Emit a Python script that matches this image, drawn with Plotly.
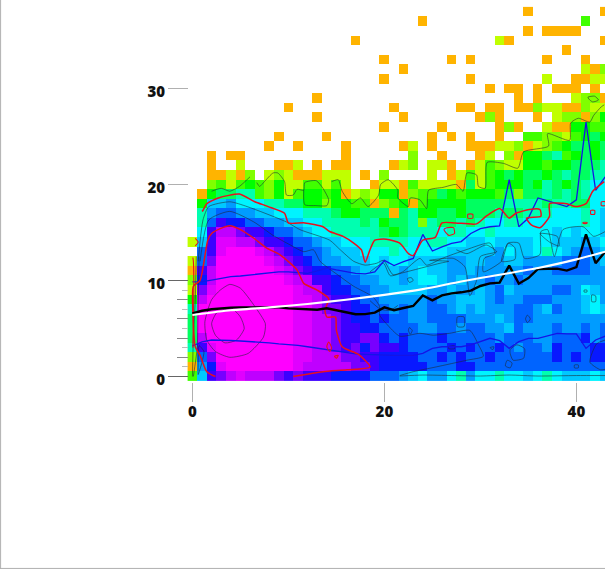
import plotly.graph_objects as go

# Histogram cells: one string per y value (from y=38 at top to y=0), columns x=0..43
ROWS = [
".......... .......... .......... .....O.... ...O",
".......... .......... ....O..... .......... .K..",
".......... .......... .......... .....O.OOO O...",
".......... .......O.. .......... ..YO...... ...O",
".......... .......... .......... .........O ....",
".......... .......... O......O.O .......O.. .O..",
".......... .......... ..O....... .......... .YOL",
".......... .......... O........O .......Y.. OOYY",
".......... .......... .......... .O.OO.O.OO O.O.",
".......... ...O...... .......... ....O.O... YLLO",
".......... O......... .O......OO .OO.OOLYYO OLYY",
".......... ...O...... ..O....... OLO...O.YL LOLJ",
".......... .......... O.....O... ..OLO..YOO JJKK",
".........O ....O..... .....O.O.O ..O..KKLLY KJHJ",
"........O. .O....O... ..OY.O...O OOYYLOYLKJ HHJH",
"..O.OO.... ......O... ...L..O... OY.LOJJHGK JHJH",
"..O..Y...O OY.O.OO... .OYL.YYO.O YKLYYJJKJJ HHHG",
"..OOYOL.YL YOOOYYY.O. L....Y.OYK YKJHJHHJHG HHGG",
"..LKYKJKLJ YYKKYKY..O YYOKYYYYOH YKJJJHJGHJ HGFF",
".OJHHGGKLJ YKJJKJOYLY JJOLKKHJKJ JJKHLHHGHG HGFF",
".JEEDFFFGG HHJJLJJKKO LKJOKJJJJH HHHGGGGHGG HHFF",
".GDCCDDEEF FFGGGHJJHH HOHGJJHHJH HHGHHGGGFF FGFE",
".GCUBBCCDD EEFFGGGGHG JHHGLGHHGH GFFGGFFFFF FGFE",
".FUVVIUUBC CDEFFGGGGG HJHGGGFGGF FGFFFFFFEF EFFE",
"YEUPPVVIUU BCCDEEFFFG GGGFFGGFFE EFEEEEFFEE EDEF",
".CUPMMMPVI UBCCDEEEFF FGFFFFFEEE EEDFEEFGFE DCDE",
"YCIMMMMMPV IUBCDDEEEF EFFEEEEDDE EDDEEDDDDC CCDE",
"OUVMMMMMMP VIUBBCCDEE EEDEFEEDDE DDDDDCDDCC CCDD",
"LBVMMMMMMM PVVUUBCCDD EEDEFFEDED DCDDCDDDDD DDDD",
"YIPMMMMMMM MPVVUBBCCD DEEEEDDEDD EDCEDDDDCC DFED",
"JVMMMMMMMM MPPVIUUBCC DDDDDCDDEE EDCDDCCCDD DEFD",
"GMMMMMMMMM MPPVIIUBBC CDCDDCCDED EDDDCCDECD DEFE",
"HMMMMMMMMM MPPVVIUBBC BCCDDCCCCD DDEDCCDDDD DDDD",
"HMMMMMMMMM MPPVVIUUBB CCCCDDCCDC CDDECDDDCD DCDC",
"HVMMMMMMMM MPPVVIUUII BCBCCCBCCC CCDCCCDDCC CBDC",
"GUPMMMMMMM MPPVVIUIBI UUBCCCCBCB CCBCDCCDBC CCBB",
"LCIMMMMMMM MPPVVVIIUU BBBBCCBCBC CBCCCCCCBC BCBB",
"ODBPMMMMMM MPVVVVVIIU BBBBBCCCBB CCCCCCCCCC CCCC",
"KEUIVPVVVI UIUUUBBBBC CCDEFDDFGD FFGFFEFGFE EEFE",
]
LEVELS = "MPVIUBCDEFGHJKLYO"
LEVEL_COLORS = ["#ff00ff", "#e000ff", "#bf00ff", "#7800ff", "#3c00ff", "#0818ff", "#0064ff",
                "#009cff", "#00c8ff", "#00f4ff", "#00ffb0", "#00ff60", "#00ff00", "#40ff00",
                "#80ff00", "#c0ff00", "#ffb400"]

MEAN_LINE = [6.58, 6.85, 7.0, 7.1, 7.17, 7.2, 7.2, 7.2, 7.2, 7.2, 7.1, 7.05, 6.96, 6.96, 7.1, 6.9,
             6.65, 6.48, 6.5, 6.65, 7.2, 6.9, 7.14, 7.35, 8.45, 7.94, 8.45, 8.66, 8.77, 8.94, 9.43,
             9.7, 9.78, 11.55, 9.67, 10.26, 11.2, 11.24, 11.24, 11.03, 11.4, 14.8, 11.8, 13.0]
UPPER_BLUE = [9.85, 9.88, 10.05, 10.2, 10.4, 10.47, 10.57, 10.68, 10.8, 10.9, 10.9, 10.85, 10.75, 11.0,
              11.3, 11.1, 10.95, 10.75, 10.7, 10.9, 12.1, 11.55, 11.96, 12.3, 14.8, 13.07, 13.5, 13.87,
              14.05, 14.9, 15.4, 15.6, 15.7, 20.5, 15.6, 16.5, 18.6, 18.3, 18.0, 17.7, 18.4, 26.5, 19.4, 20.8]
LOWER_BLUE = [3.2, 3.6, 3.8, 3.8, 3.75, 3.7, 3.65, 3.55, 3.5, 3.4, 3.35, 3.25, 3.1, 2.95, 2.8, 2.65, 2.5,
              2.35, 2.3, 2.25, 2.2, 2.2, 2.2, 2.2, 2.42, 2.93, 3.1, 3.1, 3.1, 3.3, 3.63, 3.98, 3.73, 2.93,
              3.63, 3.98, 3.98, 4.25, 4.5, 4.43, 4.43, 2.93, 3.8, 4.2]
FIT_X = [0, 4, 8, 12, 16, 20, 24, 28, 32, 36, 40, 43]
FIT_Y = [6.4, 6.9, 7.2, 7.55, 8.0, 8.5, 9.1, 9.9, 10.6, 11.3, 12.2, 13.0]

RED_INNER = [(2.4, 0), (1.5, .5), (.8, 2.2), (.3, 3.1), (.1, 5.5), (.1, 9.4), (.8, 10), (1.6, 14.2), (2, 14.9),
             (2.9, 15.4), (3.9, 15.7), (5, 15.3), (6.4, 14.4), (7.7, 13.4), (9.1, 12.7), (10.9, 11.1), (11.6, 9.7),
             (13, 9), (14.2, 8.1), (13.8, 6.9), (14, 6.2), (14.9, 6.2), (15, 4.8), (15.6, 3.1), (17.3, 2.3), (18.5, 1),
             (16.1, .7), (13.6, .5), (10.5, 0)]
RED_OUTER = [(1, 17.2), (1.1, 17.3), (1.5, 18), (2.7, 18.6), (4.9, 19), (6.5, 18.2), (7.9, 17.7), (9.6, 17), (10, 16),
             (11.7, 16), (13.6, 15.6), (14.3, 15.1), (15.7, 14.6), (16.8, 13.9), (17.6, 13.2), (18, 11.9), (18.5, 13.2),
             (19, 14.2), (20.2, 14.3), (21.6, 13.9), (22.5, 12.8), (23, 12.6), (24, 14.2), (25.3, 14.5), (26, 16),
             (27.4, 16), (29.6, 15.9), (30.6, 16.7), (32, 17.5), (33, 16.5), (33.7, 17), (35.1, 17.4), (36.2, 17.4),
             (36.3, 16.7), (34.8, 16.5), (35.3, 15.8), (36.2, 15.5), (37.2, 16.7), (37.2, 18), (39, 18), (39.9, 17.7),
             (41, 18), (41.7, 19.3), (42.9, 20.3)]
RED_LOOPS = [
    [(.3, 14.4), (.6, 14), (.3, 13.6)],
    [(26.2, 15.3), (26.7, 14.7), (27.3, 14.9), (27.2, 15.5), (26.5, 15.5), (26.2, 15.3)],
    [(28.7, 16.9), (29.2, 16.9), (29.2, 16.5), (28.7, 16.5), (28.7, 16.9)],
    [(14.2, 3.6), (14.5, 3), (14.3, 2.6), (14, 3.1), (14.2, 3.6)],
    [(14.8, 2.1), (15.2, 2.2), (15, 1.9), (14.8, 2.1)],
    [(41.5, 17.3), (41.9, 17.3), (41.9, 16.9), (41.5, 16.9), (41.5, 17.3)],
    [(42.6, 18.2), (43, 18.2), (43, 17.8), (42.6, 17.8), (42.6, 18.2)],
    [(40.7, 16.05), (41.1, 16.05), (41.1, 15.95), (40.7, 15.95), (40.7, 16.05)],
    [(.05, 3), (.1, 6), (.15, 9), (.1, 12), (.05, 12.4)],
]
DARK_CONTOURS = [
    # upper edge, left to right
    [(2, 19.3), (3, 19.6), (3.9, 19.3), (4.9, 19.8), (6, 20.8)],
    [(6.7, 20.2), (7, 19.8), (7.5, 20.3), (8.4, 21.2), (8.9, 21.2), (9.6, 20.3), (9.8, 18.9), (10.5, 18.9), (10.9, 19.5),
     (11.6, 19.4), (11.7, 20.2), (12.9, 20.4), (13.6, 19.6), (14.2, 18.4), (14, 17.8), (12.9, 17.8), (11.7, 17.9), (11.6, 19.4)],
    [(14.5, 20.3), (15.2, 20.5), (15.6, 19.3), (16.6, 18), (17.5, 18.6), (18.3, 17.7), (19.4, 18.9), (19.6, 20), (20.4, 20.5),
     (21.4, 19.4), (21.4, 18.6), (22.5, 17.7), (22.7, 18.6), (23.7, 18.4), (24.4, 17.5), (24.6, 19.4), (26.1, 19.7),
     (27.5, 20), (28.2, 19.3), (28.6, 21.2), (29.6, 21), (29.8, 19.8), (30.5, 19.6), (30.7, 22.3), (32.4, 22.2),
     (33.9, 21.7), (34.5, 23.4), (37.1, 24), (37, 25.3), (39.3, 24.6), (39.4, 26.4), (40.2, 26.9), (41.4, 26.5),
     (41.8, 27.2), (42.6, 28.1), (42.9, 28.3)],
    [(41.2, 29.1), (41.9, 29.2), (42.3, 28.8), (41.7, 28.6), (41.3, 28.9), (41.2, 29.1)],
    # blue area, outer
    [(.6, 12), (1.1, 16.3), (1.7, 17.7), (3.9, 18.2), (5.7, 17.7), (9.8, 16.1), (11.2, 15.3), (14.3, 14.2), (15.4, 13.2),
     (16.8, 12), (18, 11.6), (19.2, 11.8), (19.9, 12.1), (20.9, 10.6), (21.9, 10.9), (23.7, 12.3), (24.4, 11.6), (26, 12.3),
     (28.5, 13.2), (31, 13.9), (31.5, 12.8), (30.4, 12.3), (30.3, 10.9), (32.2, 12), (32.9, 13.9), (34, 13.9), (34.6, 12.3),
     (36.2, 12.7), (36.3, 15.1), (37, 15.3), (37.7, 12.5), (38.6, 15.3), (40.7, 15.6), (41.8, 14.6), (43, 15.1)],
    # blue area, inner
    [(.8, 12), (1.7, 16.3), (3.9, 17.2), (6.4, 16.1), (8.4, 14.7), (10.2, 13.7), (11.6, 13), (12.6, 13.2), (13.3, 12),
     (15.4, 10.4), (16.8, 9.4), (18.8, 8.3), (19.5, 7.3), (19.5, 6.4), (20.2, 5.5), (21.6, 4.2), (23.7, 4.5), (25.1, 4.3),
     (26.8, 4.5), (28.9, 4.8), (29.8, 3.3), (30.3, 2.1), (28.6, 1.7), (25.4, 1), (23, .5), (21.6, .1)],
    [(21.6, .05), (24, .15), (27, .1), (30, .05), (33, .15), (36, .05), (40, .1), (43, .1)],
    [(27.5, 13.2), (28.6, 12.8), (30.6, 13.7), (31.7, 13), (30, 12.5), (29.6, 10), (28.9, 8.4), (28.4, 11.4), (27.2, 12.3),
     (24.7, 12.1), (26.7, 12), (25.8, 11.8), (21.9, 10.8), (20.6, 10.5), (19.9, 11.8), (18.5, 10.9)],
    # magenta core
    [(3.9, 9.6), (5, 9.2), (6.5, 7.3), (7.6, 5.5), (7.4, 4.1), (5.8, 2.4), (3.9, 2), (2.4, 2.6), (1.5, 3.8), (1.3, 5.7),
     (2, 8), (2.9, 9), (3.9, 9.6)],
    [(4.1, 7.1), (5, 6.2), (5.4, 5), (4.6, 3.8), (3.4, 3.5), (2.4, 4.3), (2, 5.5), (2.5, 6.6), (3.2, 6.9), (4.1, 7.1)],
    # left edge
    [(0, 0), (.1, 4), (.3, 8), (.4, 12.5)],
    [(.1, 0), (.5, 3), (.6, 8), (.7, 12.5)],
    [(.6, .2), (1, 1.5), (1.2, 2.6), (.7, 3.2), (.6, 1.2), (.6, .2)],
    # right side
    [(43, 3.8), (42.1, 3.4), (41.4, 1.5), (42.5, .7), (43, .75)],
    [(33.1, 2.8), (33.8, 3.3), (34.6, 2.9), (34.5, 1.9), (33.4, 1.7), (33.1, 2.4), (33.1, 2.8)],
    [(32.8, 1.7), (33.3, 1.4), (33.1, .9), (32.6, 1.1), (32.8, 1.7)],
    [(27.6, 6.2), (28.3, 6.2), (28.3, 5.2), (27.6, 5.2), (27.6, 6.2)],
    [(34.9, 6.4), (35.2, 6), (34.9, 5.6), (34.7, 6), (34.9, 6.4)],
    [(22.6, 5.1), (22.9, 4.8), (22.7, 4.4), (22.5, 4.8), (22.6, 5.1)],
    [(22.4, 10.2), (22.8, 10.3), (23, 10), (22.6, 9.8), (22.4, 10.2)],
    [(41.6, 8.5), (42, 8.4), (42, 7.8), (41.6, 7.8), (41.6, 8.5)],
    [(40.8, 9), (41.1, 9), (41.1, 8.8), (40.8, 8.8), (40.8, 9)],
    [(26.7, 3.1), (27.3, 3.2), (27.3, 2.9), (26.7, 2.9), (26.7, 3.1)],
    [(31, 3), (31.4, 3.1), (31.3, 2.8), (31, 3)],
    [(39.8, 1.2), (40.2, 1.2), (40.2, .9), (39.8, .9), (39.8, 1.2)],
    [(18.5, 7.9), (19.6, 7), (20.6, 6.9), (21.4, 7.4)],
    [(36.2, 14.9), (38, 14.6), (38.2, 13.6), (37.2, 14), (36.2, 14.9)],
    [(32.2, 12), (33.6, 12.2), (33.6, 13.4), (32.9, 13.9), (32.2, 12)],
]

X_TICKS = [0, 20, 40]
Y_TICKS = [0, 10, 20, 30]
Y_EVEN = [2, 4, 6, 8]
Y_ODD = [1, 3, 5, 7, 9]

W, H = 605, 569
X0, Y0, UNIT = 192.4, 376.5, 9.6
x_range = [-X0 / UNIT, (W - X0) / UNIT]
y_range = [(Y0 - H) / UNIT, Y0 / UNIT]

rows = [r.replace(" ", "") for r in ROWS][::-1]
z = [[LEVELS.index(c) if c != "." else None for c in r] for r in rows]
n = len(LEVELS) - 1
colorscale = [[i / n, c] for i, c in enumerate(LEVEL_COLORS)]

fig = go.Figure()
fig.add_trace(go.Heatmap(z=z, x=list(range(44)), y=list(range(len(rows))), zmin=0, zmax=n,
                         colorscale=colorscale, showscale=False, hoverongaps=False))


def add_path(pts, color, width, shape="spline"):
    fig.add_trace(go.Scatter(x=[p[0] for p in pts], y=[p[1] for p in pts], mode="lines",
                             line=dict(color=color, width=width, shape=shape, smoothing=0.6),
                             hoverinfo="skip", showlegend=False))


for c in DARK_CONTOURS:
    add_path(c, "rgba(30,40,50,0.72)", 0.8)
xs = list(range(44))
add_path(list(zip(xs, UPPER_BLUE)), "#1414e6", 1.3, "linear")
add_path(list(zip(xs, LOWER_BLUE)), "#1414e6", 1.3, "linear")
add_path(RED_OUTER, "#e8101e", 1.5)
add_path(RED_INNER, "#e8101e", 1.5)
for c in RED_LOOPS:
    add_path(c, "#e8101e", 1.1)
add_path(list(zip(xs, MEAN_LINE)), "#000000", 2.4, "linear")
add_path(list(zip(FIT_X, FIT_Y)), "#ffffff", 2.1)

# extra overlay axes only carry the unlabelled tick marks
fig.add_trace(go.Scatter(x=[0], y=[0], yaxis="y2", mode="lines", hoverinfo="skip", showlegend=False))
fig.add_trace(go.Scatter(x=[0], y=[0], yaxis="y3", mode="lines", hoverinfo="skip", showlegend=False))

font = dict(family="Open Sans, Liberation Sans, sans-serif", size=15, color="#111111", weight=800)
ypos = 188 / W
fig.update_layout(
    width=W, height=H, margin=dict(l=0, r=0, t=0, b=0), autosize=False, showlegend=False,
    paper_bgcolor="white", plot_bgcolor="white",
    xaxis=dict(range=x_range, domain=[0, 1], anchor="free", position=(H - 381.6) / H, tickmode="array",
               tickvals=X_TICKS, ticks="outside", ticklen=19, tickwidth=1, tickcolor="#b0b0b0",
               ticklabelstandoff=-3, tickfont=font, showgrid=False, zeroline=False, showline=False),
    yaxis=dict(range=y_range, domain=[0, 1], anchor="free", position=ypos, tickmode="array",
               tickvals=Y_TICKS, ticks="outside", ticklen=20, tickwidth=1, tickcolor="#b0b0b0",
               ticklabelshift=3, tickfont=font, showgrid=False, zeroline=False, showline=False),
    yaxis2=dict(range=y_range, domain=[0, 1], overlaying="y", anchor="free", position=ypos, tickmode="array",
                tickvals=Y_EVEN, ticks="outside", ticklen=11, tickwidth=1, tickcolor="#888888", showticklabels=False,
                showgrid=False, zeroline=False, showline=False,
                minor=dict(tickmode="array", tickvals=Y_ODD, ticks="outside", ticklen=6, tickwidth=1,
                           tickcolor="#bbbbbb", showgrid=False)),
    yaxis3=dict(range=y_range, domain=[0, 1], overlaying="y", anchor="free", position=ypos, tickmode="array",
                tickvals=[0, 10], ticks="outside", ticklen=20, tickwidth=1, tickcolor="#666666", showticklabels=False,
                showgrid=False, zeroline=False, showline=False),
    shapes=[
        dict(type="line", xref="paper", yref="paper", x0=0.001, x1=0.001, y0=0, y1=1, line=dict(color="#b0b0b0", width=1)),
        dict(type="line", xref="paper", yref="paper", x0=0, x1=1, y0=0.001, y1=0.001, line=dict(color="#b0b0b0", width=1)),
    ],
)
fig.write_html("out.html", config={"displayModeBar": False},
               post_script="document.documentElement.style.overflow='hidden';document.body.style.margin='0';")
